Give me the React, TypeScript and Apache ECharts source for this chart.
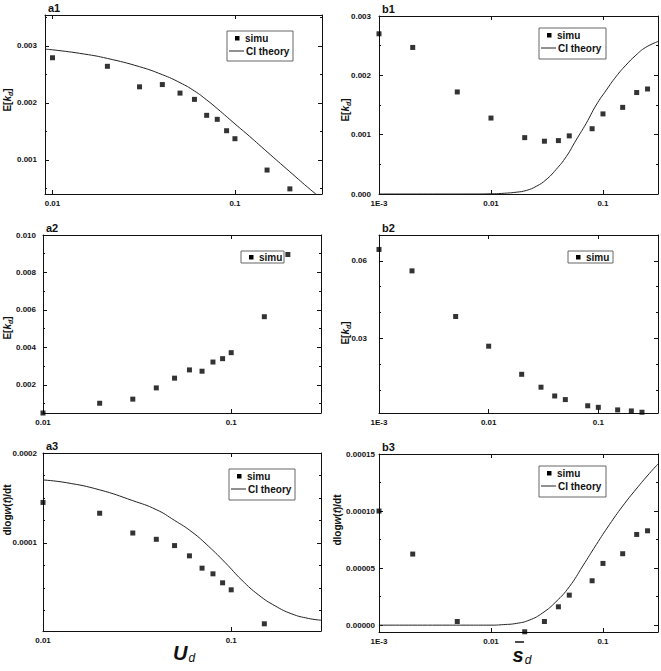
import React, { useEffect, useRef } from 'react';
import * as echarts from 'echarts';

// ---- data ----
const a1SimuX = [0.01, 0.02, 0.03, 0.04, 0.05, 0.06, 0.07, 0.08, 0.09, 0.1, 0.15, 0.2];
const a1SimuY = [0.00279, 0.00264, 0.00228, 0.00232, 0.00217, 0.00206, 0.00178, 0.00171, 0.00151, 0.00137, 0.00082, 0.00049];
const a1TheoryX = [0.0091, 0.01, 0.015, 0.02, 0.03, 0.04, 0.05, 0.06, 0.07, 0.08, 0.1, 0.12, 0.15, 0.2, 0.25, 0.3];
const a1TheoryY = [0.00294, 0.00293, 0.002854, 0.002778, 0.002633, 0.002493, 0.002353, 0.002207, 0.00205, 0.001898, 0.00163, 0.001414, 0.00114, 0.00079, 0.00052, 0.00031];

const b1SimuX = [0.001, 0.002, 0.005, 0.01, 0.02, 0.03, 0.04, 0.05, 0.08, 0.1, 0.15, 0.2, 0.25];
const b1SimuY = [0.0027, 0.00247, 0.00172, 0.00128, 0.00095, 0.00089, 0.0009, 0.00098, 0.0011, 0.00135, 0.00146, 0.00171, 0.00177];
const b1TheoryX = [0.001, 0.003, 0.006, 0.01, 0.0125, 0.0168, 0.0207, 0.0254, 0.031, 0.038, 0.047, 0.0576, 0.0708, 0.087, 0.107, 0.131, 0.16, 0.197, 0.24, 0.31];
const b1TheoryY = [0, 0, 0, 0.000003, 0.00001, 0.00003, 0.00006, 0.00013, 0.00024, 0.00041, 0.00063, 0.00091, 0.00119, 0.0015, 0.00175, 0.00198, 0.00217, 0.00234, 0.00247, 0.00257];

const a2SimuX = [0.01, 0.02, 0.03, 0.04, 0.05, 0.06, 0.07, 0.08, 0.09, 0.1, 0.15, 0.2];
const a2SimuY = [0.0005, 0.00102, 0.00124, 0.00184, 0.00236, 0.0028, 0.00273, 0.00322, 0.0034, 0.00372, 0.00564, 0.00896];

const b2SimuX = [0.001, 0.002, 0.005, 0.01, 0.02, 0.03, 0.04, 0.05, 0.08, 0.1, 0.15, 0.2, 0.25];
const b2SimuY = [0.0644, 0.0561, 0.0384, 0.0269, 0.016, 0.011, 0.0076, 0.0062, 0.0038, 0.0032, 0.0022, 0.0018, 0.0013];

const a3SimuX = [0.01, 0.02, 0.03, 0.04, 0.05, 0.06, 0.07, 0.08, 0.09, 0.1, 0.15];
const a3SimuY = [0.000145, 0.000133, 0.000111, 0.000104, 0.000097, 0.0000856, 0.0000719, 0.0000656, 0.0000556, 0.0000478, 0.00001];
const a3TheoryX = [0.01, 0.0133, 0.02, 0.03, 0.04, 0.05, 0.062, 0.076, 0.093, 0.114, 0.14, 0.171, 0.21, 0.257, 0.3];
const a3TheoryY = [0.00017, 0.000167, 0.000159, 0.000147, 0.000137, 0.000125, 0.000112, 0.000096, 0.000078, 0.0000585, 0.000042, 0.00003, 0.000021, 0.000016, 0.000014];

const b3SimuX = [0.001, 0.002, 0.005, 0.02, 0.03, 0.04, 0.05, 0.08, 0.1, 0.15, 0.2, 0.25];
const b3SimuY = [0.0001, 0.0000623, 0.0000032, -0.0000058, 0.0000032, 0.0000161, 0.0000263, 0.0000389, 0.0000541, 0.0000626, 0.0000795, 0.0000827];
const b3TheoryX = [0.001, 0.003, 0.006, 0.01, 0.013, 0.0168, 0.022, 0.029, 0.038, 0.05, 0.066, 0.087, 0.114, 0.15, 0.198, 0.26, 0.31];
const b3TheoryY = [0, 0, 0, 0, 0.0000005, 0.0000015, 0.0000044, 0.0000108, 0.0000205, 0.0000336, 0.0000518, 0.0000705, 0.000088, 0.0001044, 0.0001193, 0.000133, 0.0001412];

const FONT = '"Liberation Sans", Arial, sans-serif';

const zip = (xs: number[], ys: number[]) => xs.map((x, i) => [x, ys[i]]);

type Panel = {
  label: string;
  grid: { left: number; top: number; width: number; height: number };
  xMin: number; xMax: number; bStyle: boolean;
  yMin: number; yMax: number; major: number; dec: number; minor: number; labelMargin: number;
  simu: number[][]; theory?: number[][];
};

const panels: Panel[] = [
  { label: 'a1', grid: { left: 45, top: 15, width: 277, height: 179 }, xMin: 0.0091, xMax: 0.3, bStyle: false,
    yMin: 0.0004, yMax: 0.00354, major: 0.001, dec: 3, minor: 2, labelMargin: 8, simu: zip(a1SimuX, a1SimuY), theory: zip(a1TheoryX, a1TheoryY) },
  { label: 'b1', grid: { left: 379, top: 16, width: 279, height: 178 }, xMin: 0.001, xMax: 0.31, bStyle: true,
    yMin: 0, yMax: 0.003, major: 0.001, dec: 3, minor: 2, labelMargin: 8, simu: zip(b1SimuX, b1SimuY), theory: zip(b1TheoryX, b1TheoryY) },
  { label: 'a2', grid: { left: 43, top: 235, width: 278, height: 178 }, xMin: 0.01, xMax: 0.3, bStyle: false,
    yMin: 0.0005, yMax: 0.01, major: 0.002, dec: 3, minor: 2, labelMargin: 7, simu: zip(a2SimuX, a2SimuY) },
  { label: 'b2', grid: { left: 379, top: 235, width: 279, height: 178 }, xMin: 0.001, xMax: 0.35, bStyle: true,
    yMin: 0.001, yMax: 0.07, major: 0.03, dec: 2, minor: 3, labelMargin: 12, simu: zip(b2SimuX, b2SimuY) },
  { label: 'a3', grid: { left: 43, top: 453, width: 278, height: 178 }, xMin: 0.01, xMax: 0.3, bStyle: false,
    yMin: 0.000002, yMax: 0.0002, major: 0.0001, dec: 4, minor: 4, labelMargin: 6, simu: zip(a3SimuX, a3SimuY), theory: zip(a3TheoryX, a3TheoryY) },
  { label: 'b3', grid: { left: 379, top: 454, width: 279, height: 178 }, xMin: 0.001, xMax: 0.31, bStyle: true,
    yMin: -0.000006, yMax: 0.00015, major: 0.00005, dec: 5, minor: 2, labelMargin: 4, simu: zip(b3SimuX, b3SimuY), theory: zip(b3TheoryX, b3TheoryY) },
];

const labelStyle = { fontSize: 8, fontWeight: 'bold', fontFamily: FONT, color: '#111' };
const lineCol = '#111';

function buildOption() {
  const grids: any[] = [];
  const xAxes: any[] = [];
  const yAxes: any[] = [];
  const series: any[] = [];
  const graphic: any[] = [];

  panels.forEach((p, gi) => {
    grids.push({ ...p.grid, containLabel: false, show: false });
    const logFmt = (v: number) => {
      const l = Math.log10(v);
      const r = Math.round(l);
      if (Math.abs(l - r) > 1e-6) return '';
      if (p.bStyle && r === -3) return '1E-3';
      return String(Number(Math.pow(10, r).toPrecision(6)));
    };
    const yFmt = (v: number) => {
      const k = v / p.major;
      const r = Math.round(k);
      if (Math.abs(k - r) > 1e-6) return '';
      return (r * p.major).toFixed(p.dec);
    };
    ['bottom', 'top'].forEach((pos) => {
      xAxes.push({
        type: 'log', logBase: 10, gridIndex: gi, position: pos, min: p.xMin, max: p.xMax,
        axisLine: { show: true, onZero: false, lineStyle: { color: lineCol, width: 1 } },
        axisTick: { show: true, inside: true, length: 4, lineStyle: { color: lineCol } },
        splitLine: { show: false },
        axisLabel: { show: pos === 'bottom', formatter: logFmt, margin: 5, ...labelStyle },
      });
    });
    const xb = xAxes.length - 2;
    ['left', 'right'].forEach((pos) => {
      yAxes.push({
        type: 'value', gridIndex: gi, position: pos, min: p.yMin, max: p.yMax,
        minInterval: p.major, maxInterval: p.major, splitNumber: 3,
        axisLine: { show: true, onZero: false, lineStyle: { color: lineCol, width: 1 } },
        axisTick: { show: true, inside: true, length: 4, lineStyle: { color: lineCol } },
        minorTick: { show: true, splitNumber: p.minor, length: 2, lineStyle: { color: lineCol } },
        splitLine: { show: false },
        axisLabel: { show: pos === 'left', formatter: yFmt, margin: p.labelMargin, ...labelStyle },
      });
    });
    const yl = yAxes.length - 2;
    series.push({
      name: 'simu', type: 'scatter', xAxisIndex: xb, yAxisIndex: yl, data: p.simu,
      symbol: 'rect', symbolSize: 5, itemStyle: { color: '#000' },
    });
    if (p.theory) {
      series.push({
        name: 'CI theory', type: 'line', xAxisIndex: xb, yAxisIndex: yl, data: p.theory,
        showSymbol: false, smooth: true, clip: true,
        lineStyle: { color: '#222', width: 1 },
      });
    }
    // panel label
    graphic.push({
      type: 'text', left: p.grid.left + 3, top: p.grid.top - 13,
      style: { text: p.label, fontSize: 11, fontWeight: 'bold', fontFamily: FONT, fill: '#111' },
    });
  });

  // y axis titles
  const eTitle = (x: number, y: number) => ({
    type: 'text', x, y, rotation: Math.PI / 2,
    style: {
      text: '{n|E[}{k|k}{s|d}{n|]}', align: 'center', verticalAlign: 'middle',
      rich: {
        n: { fontSize: 10, fontWeight: 'bold', fontFamily: FONT, fill: '#111' },
        k: { fontSize: 10, fontWeight: 'bold', fontStyle: 'italic', fontFamily: FONT, fill: '#111' },
        s: { fontSize: 7, fontWeight: 'bold', fontStyle: 'italic', fontFamily: FONT, fill: '#111', padding: [6, 0, 0, 0] },
      },
    },
  });
  const dTitle = (x: number, y: number) => ({
    type: 'text', x, y, rotation: Math.PI / 2,
    style: {
      text: '{n|dlog}{w|w}{n|(}{w|t}{n|)/dt}', align: 'center', verticalAlign: 'middle',
      rich: {
        n: { fontSize: 10, fontWeight: 'bold', fontFamily: FONT, fill: '#111' },
        w: { fontSize: 10, fontWeight: 'bold', fontStyle: 'italic', fontFamily: FONT, fill: '#111' },
      },
    },
  });
  graphic.push(eTitle(7, 100), eTitle(345, 110), eTitle(7, 328), eTitle(345, 333), dTitle(7, 510), dTitle(337, 520));

  // x axis titles
  graphic.push({
    type: 'text', x: 184, y: 653,
    style: {
      text: '{u|U}{d|d}', align: 'center', verticalAlign: 'middle',
      rich: {
        u: { fontSize: 20, fontWeight: 'bold', fontStyle: 'italic', fontFamily: FONT, fill: '#111' },
        d: { fontSize: 12, fontStyle: 'italic', fontFamily: FONT, fill: '#111', padding: [10, 0, 0, 1] },
      },
    },
  });
  graphic.push({
    type: 'text', x: 522, y: 655,
    style: {
      text: '{u|s}{d|d}', align: 'center', verticalAlign: 'middle',
      rich: {
        u: { fontSize: 20, fontWeight: 'bold', fontStyle: 'italic', fontFamily: FONT, fill: '#111' },
        d: { fontSize: 12, fontStyle: 'italic', fontFamily: FONT, fill: '#111', padding: [10, 0, 0, 1] },
      },
    },
  });
  graphic.push({ type: 'line', shape: { x1: 515, y1: 642, x2: 524, y2: 642 }, style: { stroke: '#111', lineWidth: 1.5 } });

  // legends
  const legend = (x1: number, y1: number, x2: number, y2: number, withLine: boolean) => {
    const els: any[] = [
      { type: 'rect', shape: { x: x1, y: y1, width: x2 - x1, height: y2 - y1 }, style: { fill: '#fff', stroke: '#666', lineWidth: 1 } },
    ];
    const mY = withLine ? y1 + 7 : (y1 + y2) / 2;
    els.push({ type: 'rect', shape: { x: x1 + 8, y: mY - 2, width: 4.5, height: 4.5 }, style: { fill: '#000' } });
    els.push({ type: 'text', x: x1 + 18, y: mY, style: { text: 'simu', fontSize: 10, fontWeight: 'bold', fontFamily: FONT, fill: '#111', verticalAlign: 'middle' } });
    if (withLine) {
      const lY = y1 + 20;
      els.push({ type: 'line', shape: { x1: x1 + 2, y1: lY, x2: x1 + 17, y2: lY }, style: { stroke: '#222', lineWidth: 1 } });
      els.push({ type: 'text', x: x1 + 19, y: lY, style: { text: 'CI theory', fontSize: 10, fontWeight: 'bold', fontFamily: FONT, fill: '#111', verticalAlign: 'middle' } });
    }
    return els;
  };
  graphic.push(
    ...legend(227, 31, 293, 61, true),
    ...legend(539, 28, 606, 59, true),
    ...legend(241, 251, 284, 263, false),
    ...legend(568, 251, 613, 263, false),
    ...legend(229, 469, 295, 500, true),
    ...legend(539, 466, 606, 497, true),
  );

  return {
    animation: false,
    backgroundColor: '#fff',
    grid: grids,
    xAxis: xAxes,
    yAxis: yAxes,
    series,
    graphic,
  };
}

export default function App() {
  const ref = useRef<HTMLDivElement>(null);
  useEffect(() => {
    if (!ref.current) return;
    const chart = echarts.init(ref.current, undefined, { renderer: 'svg' });
    chart.setOption(buildOption() as any);
    return () => chart.dispose();
  }, []);
  return <div ref={ref} style={{ position: 'fixed', left: 0, top: 0, width: 661, height: 671, background: '#fff' }} />;
}
